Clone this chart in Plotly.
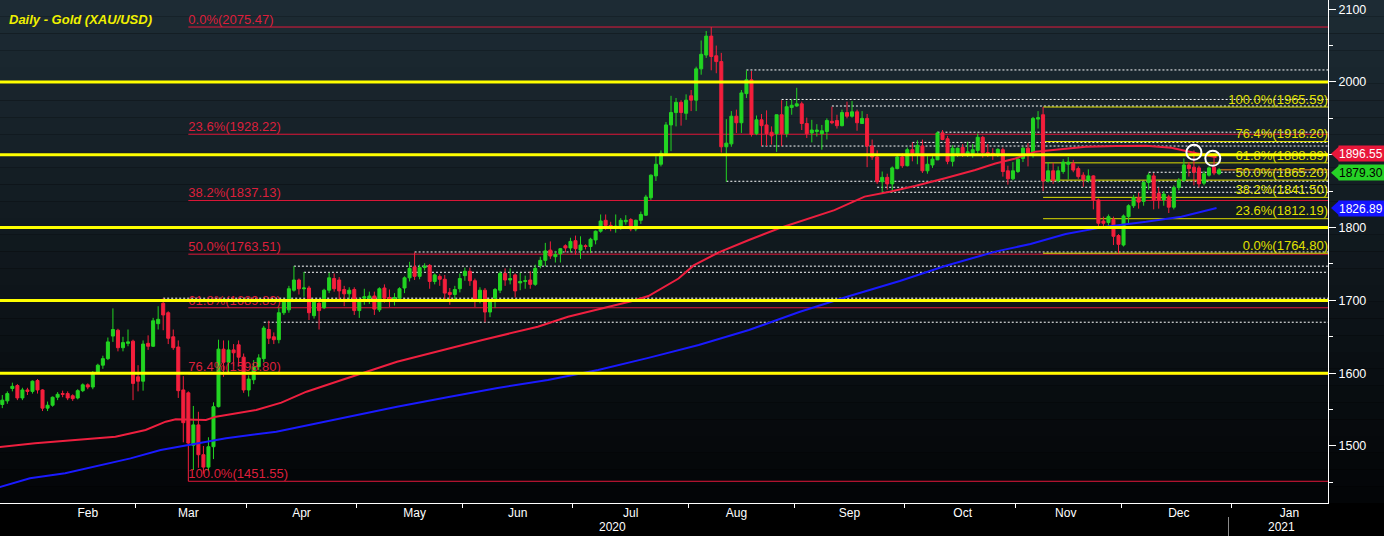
import pandas as pd
import plotly.graph_objects as go

# ---------------- data ----------------
opens = [
    1557, 1562, 1579, 1583, 1566, 1577, 1575,
    1590, 1577, 1552, 1556, 1567, 1572, 1572, 1569, 1566, 1576, 1584, 1581, 1601, 1611, 1620, 1651, 1659, 1635, 1641, 1644,
    1595, 1589, 1641, 1637, 1668, 1696, 1683, 1650, 1636, 1577, 1573, 1501, 1529, 1488, 1471, 1499, 1554, 1633, 1615, 1632, 1639, 1622,
    1577, 1591, 1609, 1620, 1660, 1650, 1646, 1683, 1687, 1714, 1728, 1716, 1717, 1679, 1696, 1690, 1714, 1730, 1728, 1715, 1709, 1715,
    1686, 1703, 1703, 1706, 1687, 1717, 1704, 1699, 1703, 1717, 1731, 1746, 1733, 1745, 1748, 1726, 1733, 1729, 1711, 1708, 1716,
    1734, 1740, 1727, 1701, 1714, 1684, 1703, 1714, 1737, 1728, 1735, 1724, 1726, 1728, 1722, 1748, 1755, 1769, 1760, 1764, 1775, 1772,
    1782, 1769, 1775, 1774, 1783, 1795, 1810, 1803, 1799, 1801, 1808, 1811, 1798, 1810, 1817, 1841, 1871, 1887, 1902, 1941, 1958, 1972, 1957,
    1981, 1975, 2018, 2037, 2063, 2036, 2028, 1911, 1915, 1953, 1944, 1984, 2003, 1929, 1948, 1941, 1931, 1929, 1955, 1929, 1965,
    1967, 1970, 1943, 1930, 1932, 1929, 1932, 1946, 1947, 1940, 1958, 1953, 1959, 1943, 1950, 1912, 1897, 1863, 1869, 1860, 1881, 1897,
    1885, 1907, 1901, 1912, 1878, 1886, 1893, 1930, 1922, 1891, 1901, 1910, 1901, 1902, 1906, 1924, 1903, 1902, 1901, 1907, 1878, 1867,
    1877, 1895, 1909, 1903, 1949, 1955, 1864, 1878, 1865, 1877, 1887, 1888, 1881, 1872, 1865, 1871, 1838, 1809, 1807, 1811, 1789,
    1776, 1815, 1830, 1841, 1836, 1862, 1871, 1847, 1838, 1842, 1828, 1855, 1865, 1886, 1883, 1882, 1861, 1872, 1883, 1874,
]
highs = [
    1570, 1575, 1587, 1585, 1580, 1580, 1590,
    1592, 1578, 1561, 1568, 1574, 1576, 1575, 1571, 1578, 1586, 1586, 1603, 1613, 1624, 1649, 1689, 1661, 1650, 1660, 1646,
    1611, 1645, 1652, 1676, 1692, 1703, 1685, 1660, 1645, 1596, 1575, 1555, 1547, 1500, 1512, 1560, 1646, 1645, 1645, 1640, 1645, 1627,
    1597, 1618, 1626, 1665, 1672, 1656, 1690, 1702, 1720, 1747, 1730, 1739, 1720, 1702, 1698, 1716, 1738, 1737, 1732, 1720, 1718, 1718,
    1704, 1716, 1712, 1712, 1718, 1722, 1715, 1710, 1718, 1733, 1753, 1766, 1749, 1751, 1750, 1737, 1736, 1735, 1717, 1720, 1737,
    1745, 1745, 1730, 1718, 1717, 1700, 1717, 1740, 1744, 1744, 1737, 1738, 1734, 1740, 1749, 1760, 1779, 1781, 1768, 1772, 1777, 1786,
    1789, 1788, 1777, 1786, 1796, 1818, 1818, 1808, 1818, 1813, 1817, 1813, 1811, 1822, 1845, 1873, 1898, 1906, 1945, 1981, 1978, 1975, 1983,
    1989, 2021, 2057, 2070, 2075.47, 2050, 2040, 1949, 1960, 1962, 1989, 2016, 2015, 1954, 1956, 1961, 1939, 1955, 1975, 1974, 1976,
    1992, 1973, 1951, 1948, 1942, 1941, 1950, 1966, 1955, 1962, 1973, 1974, 1962, 1960, 1956, 1921, 1906, 1877, 1874, 1884, 1900, 1902,
    1910, 1917, 1920, 1921, 1898, 1898, 1932, 1934, 1926, 1913, 1910, 1915, 1918, 1915, 1929, 1926, 1915, 1909, 1909, 1910, 1885, 1890,
    1897, 1911, 1916, 1952, 1960, 1965.59, 1890, 1889, 1884, 1894, 1897, 1893, 1884, 1876, 1880, 1872, 1840, 1815, 1818, 1815, 1791,
    1818, 1832, 1845, 1848, 1864, 1875, 1875, 1855, 1850, 1845, 1858, 1868, 1895, 1890, 1906, 1885, 1878, 1884, 1900, 1882,
]
lows = [
    1552, 1558, 1575, 1563, 1563, 1570, 1572,
    1572, 1548, 1548, 1554, 1563, 1567, 1563, 1562, 1564, 1574, 1578, 1578, 1599, 1606, 1618, 1643, 1630, 1630, 1637, 1563,
    1575, 1576, 1632, 1636, 1660, 1659, 1640, 1632, 1566, 1505, 1451.55, 1467, 1470, 1462, 1465, 1482, 1553, 1595, 1600, 1610, 1610, 1573,
    1568, 1585, 1604, 1615, 1640, 1640, 1641, 1680, 1683, 1712, 1708, 1705, 1673, 1675, 1660, 1688, 1710, 1712, 1700, 1692, 1700, 1680,
    1676, 1694, 1695, 1680, 1684, 1697, 1691, 1693, 1700, 1710, 1726, 1728, 1729, 1741, 1716, 1722, 1720, 1698, 1694, 1700, 1711,
    1727, 1720, 1691, 1696, 1670, 1677, 1690, 1710, 1720, 1722, 1704, 1714, 1716, 1716, 1720, 1744, 1747, 1757, 1752, 1752, 1766, 1766,
    1763, 1757, 1770, 1765, 1777, 1793, 1797, 1795, 1793, 1797, 1804, 1795, 1795, 1805, 1816, 1838, 1864, 1884, 1899, 1905, 1939, 1940, 1948,
    1960, 1960, 2010, 2033, 2016, 2012, 1903, 1863, 1911, 1930, 1930, 1978, 1925, 1927, 1912, 1912, 1914, 1904, 1912, 1924, 1955,
    1966, 1934, 1923, 1917, 1925, 1907, 1921, 1942, 1936, 1939, 1950, 1951, 1933, 1943, 1883, 1893, 1860, 1848, 1852, 1848, 1880, 1882,
    1884, 1891, 1887, 1875, 1874, 1882, 1893, 1920, 1887, 1884, 1897, 1897, 1897, 1896, 1902, 1896, 1897, 1893, 1897, 1870, 1859, 1865,
    1875, 1890, 1884, 1896, 1936, 1850, 1862, 1860, 1862, 1874, 1866, 1876, 1867, 1856, 1862, 1825, 1800, 1800, 1803, 1776, 1764.8,
    1774, 1805, 1827, 1826, 1830, 1852, 1825, 1826, 1830, 1820, 1825, 1851, 1863, 1870, 1858, 1855, 1858, 1870, 1872, 1872,
]
closes = [
    1563, 1572, 1582, 1566, 1577, 1575, 1589,
    1577, 1552, 1556, 1567, 1571, 1571, 1566, 1565, 1576, 1584, 1581, 1601, 1611, 1620, 1643, 1660, 1635, 1642, 1643, 1586,
    1589, 1640, 1637, 1672, 1674, 1680, 1648, 1635, 1576, 1532, 1504, 1529, 1488, 1471, 1499, 1554, 1633, 1615, 1632, 1628, 1622, 1577,
    1592, 1609, 1621, 1662, 1648, 1646, 1683, 1700, 1716, 1728, 1716, 1717, 1683, 1700, 1686, 1714, 1731, 1716, 1713, 1709, 1714, 1686,
    1701, 1705, 1706, 1688, 1716, 1703, 1699, 1704, 1716, 1731, 1744, 1733, 1745, 1747, 1726, 1735, 1729, 1710, 1708, 1715, 1730,
    1740, 1727, 1701, 1714, 1684, 1698, 1715, 1737, 1728, 1730, 1713, 1726, 1727, 1722, 1744, 1755, 1768, 1761, 1763, 1771, 1772, 1781,
    1771, 1776, 1774, 1784, 1795, 1809, 1803, 1799, 1802, 1810, 1810, 1798, 1810, 1818, 1842, 1872, 1887, 1902, 1941, 1958, 1972, 1958, 1975,
    1975, 2018, 2038, 2063, 2035, 2028, 1911, 1916, 1953, 1944, 1985, 2003, 1928, 1948, 1940, 1929, 1926, 1955, 1929, 1966, 1968,
    1970, 1943, 1929, 1934, 1934, 1933, 1947, 1944, 1940, 1958, 1953, 1959, 1944, 1950, 1912, 1897, 1863, 1869, 1860, 1882, 1897, 1885,
    1907, 1902, 1913, 1878, 1887, 1894, 1930, 1921, 1891, 1909, 1909, 1901, 1904, 1907, 1924, 1903, 1901, 1901, 1907.5, 1877, 1867, 1878,
    1894, 1909, 1902, 1950, 1951, 1864, 1878, 1865, 1878, 1890, 1890, 1879, 1870, 1866, 1871, 1838, 1806, 1806, 1815, 1788, 1777,
    1816, 1830, 1841, 1835, 1862, 1872, 1838, 1838, 1846, 1828, 1855, 1865, 1886, 1881, 1876, 1860, 1874, 1882, 1875, 1879.30,
]

red_ma_dates = ["2020-01-23", "2020-02-03", "2020-02-13", "2020-02-25", "2020-03-04", "2020-03-10", "2020-03-12",
                "2020-03-18", "2020-03-20", "2020-03-24", "2020-03-30", "2020-04-03", "2020-04-10", "2020-04-17",
                "2020-04-28", "2020-05-06", "2020-05-13", "2020-06-05", "2020-06-11", "2020-06-22", "2020-06-30",
                "2020-07-09", "2020-07-17", "2020-07-22", "2020-07-30", "2020-08-04", "2020-08-11", "2020-08-19",
                "2020-08-27", "2020-09-11", "2020-09-21", "2020-09-28", "2020-10-05", "2020-10-13", "2020-10-21",
                "2020-10-27", "2020-11-02", "2020-11-06", "2020-11-16", "2020-11-20", "2020-11-30", "2020-12-08",
                "2020-12-15", "2020-12-17", "2020-12-22", "2020-12-29"]
red_ma_vals = [1498.6, 1503.7, 1508.2, 1512.8, 1522, 1533.4, 1536.7, 1536.7, 1535.7, 1540.3, 1545, 1549.5, 1559.6,
               1574.6, 1590.7, 1604.4, 1615.8, 1645.6, 1652.5, 1663.9, 1677.6, 1689.1, 1699.6, 1706, 1730, 1748,
               1766, 1783, 1799, 1824, 1842.5, 1849.3, 1857.1, 1867.7, 1879.1, 1888, 1895, 1904.3, 1909, 1911.1,
               1912.1, 1912.5, 1909.8, 1906.6, 1902, 1896.55]

blue_ma_dates = ["2020-01-23", "2020-01-31", "2020-02-11", "2020-02-19", "2020-02-28", "2020-03-09", "2020-03-18",
                 "2020-03-26", "2020-04-09", "2020-04-28", "2020-05-13", "2020-05-27", "2020-06-10", "2020-06-24",
                 "2020-07-08", "2020-07-22", "2020-08-05", "2020-08-19", "2020-09-02", "2020-09-16", "2020-09-30",
                 "2020-10-13", "2020-10-27", "2020-11-05", "2020-11-16", "2020-11-26", "2020-12-08", "2020-12-17",
                 "2020-12-29"]
blue_ma_vals = [1443.7, 1455.6, 1462.5, 1471.6, 1483, 1494.5, 1503.7, 1510.6, 1519.7, 1538, 1554, 1567, 1579.7,
                1590.7, 1604.4, 1621, 1638.7, 1659.3, 1684, 1706, 1726.6, 1747.3, 1767, 1777.5, 1791.2, 1801.3,
                1808, 1815, 1826.89]

round_levels = [1600, 1700, 1800, 1900, 2000]

red_fib_levels = [2075.47, 1928.22, 1837.13, 1763.51, 1689.89, 1598.80, 1451.55]
red_fib_labels = ["0.0%(2075.47)", "23.6%(1928.22)", "38.2%(1837.13)", "50.0%(1763.51)",
                  "61.8%(1689.89)", "76.4%(1598.80)", "100.0%(1451.55)"]
red_fib_start = "2020-03-16 12:00"

yel_fib_levels = [1965.59, 1918.20, 1888.89, 1865.20, 1841.50, 1812.19, 1764.80]
yel_fib_labels = ["100.0%(1965.59)", "76.4%(1918.20)", "61.8%(1888.89)", "50.0%(1865.20)",
                  "38.2%(1841.50)", "23.6%(1812.19)", "0.0%(1764.80)"]
yel_fib_start = "2020-11-09 12:00"

dotted_levels = [2016.5, 1976, 1967, 1931, 1917, 1912, 1876, 1863.6, 1855.4, 1848.5, 1766.5, 1747, 1738.6, 1703, 1670]
dotted_starts = ["2020-08-18", "2020-08-27", "2020-09-10", "2020-10-09", "2020-10-02", "2020-08-21", "2020-12-08",
                 "2020-08-12", "2020-09-23", "2020-09-24", "2020-05-18", "2020-04-14", "2020-04-16", "2020-03-09",
                 "2020-04-06"]

circle_dates = ["2020-12-21 12:00", "2020-12-28 06:00"]
circle_levels = [1903.4, 1895.2]

last_price = 1879.30
tag_values = [1896.55, 1879.30, 1826.89]
tag_labels = ["1896.55", "1879.30", "1826.89"]
tag_colors = ["#e8173a", "#26d226", "#1414ff"]
tag_text_colors = ["#ffffff", "#000000", "#ffffff"]
tag_shift_px = [3.5, -3, 0]

# y axis labels; the 1900 label sits under the red price tag in the reference
y_tickvals = [1500, 1600, 1700, 1800, 1900, 2000, 2100]
y_ticktext = ["1500", "1600", "1700", "1800", "", "2000", "2100"]
y_minor_vals = [1450, 1550, 1650, 1750, 1850, 1950, 2050]

title_text = "Daily - Gold (XAU/USD)"
month_fmt = "%b"
year_labels = ["2020", "2021"]

# ---------------- layout constants ----------------
W, H = 1384, 536
ML, MR, MT, MB = 0, 56, 0, 33
PW, PH = W - ML - MR, H - MT - MB
X_START, X_END = "2020-01-23 01:00", "2021-01-28 04:00"
Y_MIN, Y_MAX = 1421.7, 2112.6
PX_PER_UNIT = PH / (Y_MAX - Y_MIN)
FONT = "Liberation Sans"

dates = pd.bdate_range("2020-01-23", "2020-12-29")
dates = dates[dates != pd.Timestamp("2020-12-25")]
x_dates = dates + pd.Timedelta(hours=12)
assert len(x_dates) == len(opens) == len(highs) == len(lows) == len(closes), (
    len(x_dates), len(opens), len(highs), len(lows), len(closes))

fig = go.Figure()

# fib labels (drawn under candles)
fig.add_trace(go.Scatter(x=[red_fib_start] * len(red_fib_levels), y=red_fib_levels, text=red_fib_labels,
                         mode="text", textposition="top right", cliponaxis=False,
                         textfont=dict(family=FONT, size=13, color="#dc1f3b"), hoverinfo="skip"))
fig.add_trace(go.Scatter(x=[X_END] * len(yel_fib_levels), y=yel_fib_levels, text=yel_fib_labels,
                         mode="text", textposition="top left", cliponaxis=False,
                         textfont=dict(family=FONT, size=13, color="#e0e000"), hoverinfo="skip"))

# moving averages
fig.add_trace(go.Scatter(x=red_ma_dates, y=red_ma_vals, mode="lines",
                         line=dict(color="#ee1f3f", width=2), hoverinfo="skip"))
fig.add_trace(go.Scatter(x=blue_ma_dates, y=blue_ma_vals, mode="lines",
                         line=dict(color="#1a1aff", width=2), hoverinfo="skip"))

# candles
fig.add_trace(go.Candlestick(
    x=x_dates, open=opens, high=highs, low=lows, close=closes,
    increasing=dict(line=dict(color="#22d422", width=1), fillcolor="#22d422"),
    decreasing=dict(line=dict(color="#f41f3c", width=1), fillcolor="#f41f3c"),
    whiskerwidth=0, hoverinfo="skip"))

shapes = []
# background gradient bands
n_bands = 30
top = (29, 43, 52)
bot = (3, 5, 7)
for i in range(n_bands):
    t = i / (n_bands - 1)
    c = tuple(int(round(top[j] + (bot[j] - top[j]) * t)) for j in range(3))
    shapes.append(dict(type="rect", xref="paper", yref="paper", x0=0, x1=W / PW + 0.01,
                       y1=1 - i / n_bands, y0=1 - (i + 1) / n_bands, fillcolor="rgb(%d,%d,%d)" % c,
                       line=dict(width=0), layer="below"))

for lvl, st in zip(dotted_levels, dotted_starts):
    shapes.append(dict(type="line", xref="x", yref="y", x0=st + " 12:00", x1=X_END, y0=lvl, y1=lvl,
                       line=dict(color="#ffffff", width=1, dash="2px,2px"), layer="below"))
for lvl in red_fib_levels:
    shapes.append(dict(type="line", xref="x", yref="y", x0=red_fib_start, x1=X_END, y0=lvl, y1=lvl,
                       line=dict(color="#e3183a", width=1), layer="below"))
for lvl in yel_fib_levels:
    shapes.append(dict(type="line", xref="x", yref="y", x0=yel_fib_start, x1=X_END, y0=lvl, y1=lvl,
                       line=dict(color="#dede00", width=1), layer="below"))
shapes.append(dict(type="line", xref="x", yref="y", x0=x_dates[-1], x1=X_END, y0=last_price, y1=last_price,
                   line=dict(color="#ff8a1a", width=1), layer="below"))
for lvl in round_levels:
    shapes.append(dict(type="line", xref="x", yref="y", x0=X_START, x1=X_END, y0=lvl, y1=lvl,
                       line=dict(color="#ffff00", width=3), layer="above"))
for cd, cl in zip(circle_dates, circle_levels):
    shapes.append(dict(type="circle", xref="x", yref="y", xsizemode="pixel", ysizemode="pixel",
                       xanchor=cd, yanchor=cl, x0=-7.5, x1=7.5, y0=-7.5, y1=7.5,
                       line=dict(color="#ffffff", width=2), layer="above"))

# price tags
half = 7.5 / PX_PER_UNIT
tip_px, box_px = 1331, 1338
annotations = []
for v, lab, col, tcol, sh in zip(tag_values, tag_labels, tag_colors, tag_text_colors, tag_shift_px):
    tx, bx = tip_px / PW, box_px / PW
    vc = v + sh / PX_PER_UNIT
    shapes.append(dict(type="path", xref="paper", yref="y",
                       path=f"M {tx},{vc} L {bx + 0.001},{vc + half} L {bx + 0.001},{vc - half} Z",
                       fillcolor=col, line=dict(width=0), layer="above"))
    annotations.append(dict(xref="paper", yref="y", x=bx, y=v, xanchor="left", yanchor="middle",
                            text=lab, showarrow=False, width=45, height=15, align="left", yshift=sh,
                            bgcolor=col, borderpad=0,
                            font=dict(family=FONT, size=12, color=tcol)))

# title
annotations.append(dict(xref="paper", yref="paper", x=7 / PW, y=1 - 19 / PH, xanchor="left", yanchor="middle",
                        text="<b><i>%s</i></b>" % title_text, showarrow=False,
                        font=dict(family=FONT, size=13, color="#f0f000")))
# year labels
annotations.append(dict(xref="paper", yref="paper", x=612 / PW, y=-(527 - PH) / PH, xanchor="center",
                        yanchor="middle", text=year_labels[0], showarrow=False,
                        font=dict(family=FONT, size=12, color="#ffffff")))
annotations.append(dict(xref="paper", yref="paper", x=1281 / PW, y=-(527 - PH) / PH, xanchor="center",
                        yanchor="middle", text=year_labels[1], showarrow=False,
                        font=dict(family=FONT, size=12, color="#ffffff")))
shapes.append(dict(type="line", xref="paper", yref="paper", x0=1228.5 / PW, x1=1228.5 / PW,
                   y0=-(517 - PH) / PH, y1=-(536 - PH) / PH, line=dict(color="#8a8a8a", width=1)))

fig.update_layout(
    width=W, height=H, margin=dict(l=ML, r=MR, t=MT, b=MB),
    paper_bgcolor="#000000", plot_bgcolor="rgba(0,0,0,0)",
    showlegend=False, hovermode=False, boxgap=0.25, boxgroupgap=0.2,
    shapes=shapes, annotations=annotations,
    xaxis=dict(type="date", range=[X_START, X_END],
               rangebreaks=[dict(bounds=["sat", "mon"]), dict(values=["2020-12-25"])],
               rangeslider=dict(visible=False), showgrid=False, zeroline=False,
               showline=True, linecolor="#ffffff", linewidth=1,
               ticks="outside", ticklen=4, tickcolor="#ffffff", ticklabelstandoff=-5,
               dtick="M1", tickformat=month_fmt, ticklabelmode="period",
               tickfont=dict(family=FONT, size=12, color="#ffffff")),
    yaxis=dict(side="right", range=[Y_MIN, Y_MAX], showgrid=False, zeroline=False,
               showline=True, linecolor="#ffffff", linewidth=1,
               tickmode="array", tickvals=y_tickvals, ticktext=y_ticktext,
               ticks="outside", ticklen=7, tickcolor="#ffffff",
               minor=dict(tickmode="array", tickvals=y_minor_vals,
                          ticks="outside", ticklen=4, tickcolor="#ffffff"),
               tickfont=dict(family=FONT, size=12.5, color="#ffffff")),
)

fig.write_html("out.html", config={"displayModeBar": False},
               post_script="document.body.style.margin='0';document.body.style.padding='0';"
                           "document.body.style.background='#000';")
